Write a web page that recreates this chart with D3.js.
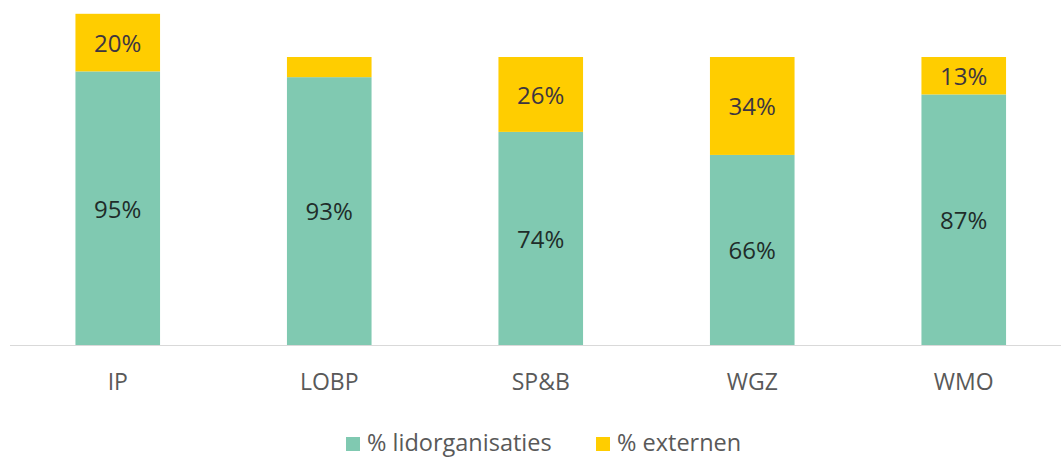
<!DOCTYPE html>
<html><head><meta charset="utf-8">
<script src="https://cdn.jsdelivr.net/npm/d3@7"></script>
<style>html,body{margin:0;padding:0;background:#fff;}svg{display:block;}</style>
</head><body>
<svg id="c" width="1061" height="459"></svg>
<script>
const categories = ["IP", "LOBP", "SP&B", "WGZ", "WMO"];
const lidorganisaties = [95, 93, 74, 66, 87];
const externen = [20, 7, 26, 34, 13];
const seriesNames = ["% lidorganisaties", "% externen"];
const showLabelExternen = [true, false, true, true, true];

const colors = ["#80c9b1", "#ffcd00"];
const svg = d3.select("#c");
const font = "'Open Sans', sans-serif";

const x = d3.scaleBand().domain(categories).range([12, 1069.5]).paddingInner(0.6).paddingOuter(0.3);
const y = d3.scaleLinear().domain([0, 100]).range([345, 57]);

const rows = categories.map((c, i) => ({cat: c, lid: lidorganisaties[i], ext: externen[i], showExt: showLabelExternen[i]}));
const stack = d3.stack().keys(["lid", "ext"])(rows);

svg.append("g").selectAll("g").data(stack).join("g")
  .attr("fill", (d, i) => colors[i])
  .selectAll("rect").data(d => d).join("rect")
  .attr("x", d => x(d.data.cat))
  .attr("width", x.bandwidth())
  .attr("y", d => y(d[1]))
  .attr("height", d => y(d[0]) - y(d[1]));

// axis line
svg.append("line").attr("x1", 10).attr("x2", 1061).attr("y1", y(0) + 0.5).attr("y2", y(0) + 0.5)
  .attr("stroke", "#d9d9d9").attr("stroke-width", 1.2);

// labels
stack.forEach((s, si) => {
  svg.append("g").selectAll("text").data(s.filter(d => si === 0 || d.data.showExt)).join("text")
    .attr("x", d => x(d.data.cat) + x.bandwidth() / 2)
    .attr("y", d => (y(d[0]) + y(d[1])) / 2 + 1)
    .attr("dy", "0.35em")
    .attr("text-anchor", "middle")
    .attr("font-family", font).attr("font-size", 24)
    .attr("fill", si === 0 ? "#1f2d2a" : "#3d3540")
    .text(d => (d[1] - d[0]) + "%");
});

// x axis labels
const xAxis = d3.axisBottom(x).tickSize(0).tickPadding(0);
const gx = svg.append("g").attr("transform", `translate(0,${y(0)})`).call(xAxis);
gx.select(".domain").remove();
gx.selectAll("text").attr("y", 37).attr("dy", "0.35em")
  .attr("font-family", font).attr("font-size", 23).attr("fill", "#595959");

// legend
const legend = svg.append("g");
const legX = [346, 596];
seriesNames.forEach((n, i) => {
  legend.append("rect").attr("x", legX[i]).attr("y", 437).attr("width", 14).attr("height", 14).attr("fill", colors[i]);
  legend.append("text").attr("x", legX[i] + 21).attr("y", 443).attr("dy", "0.35em")
    .attr("font-family", font).attr("font-size", 23.5).attr("fill", "#595959").text(n);
});
</script>
</body></html>
